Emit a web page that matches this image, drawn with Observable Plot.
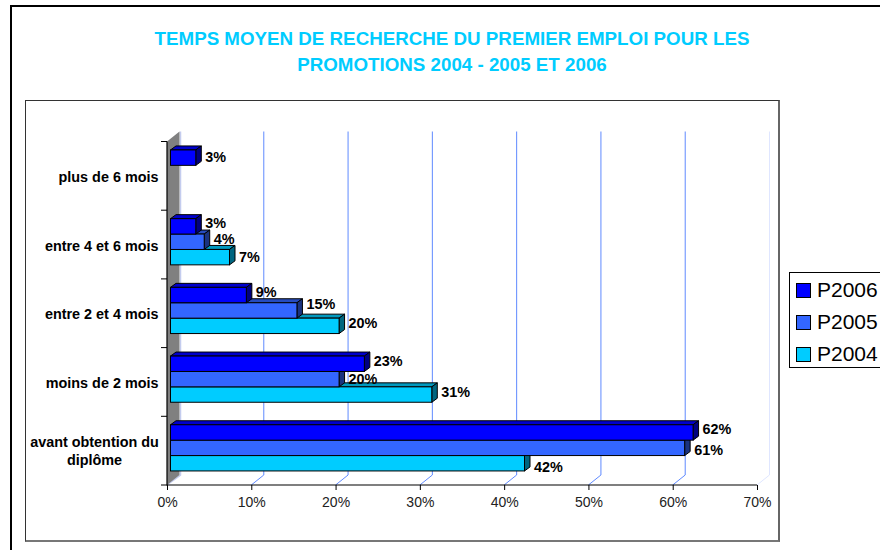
<!DOCTYPE html>
<html><head><meta charset="utf-8">
<script src="https://cdn.jsdelivr.net/npm/d3@7"></script>
<script src="https://cdn.jsdelivr.net/npm/@observablehq/plot@0.6"></script>
<style>
html,body{margin:0;padding:0;background:#fff;overflow:hidden}
#page{position:relative;width:880px;height:550px;overflow:hidden;font-family:"Liberation Sans",Arial,sans-serif}
#page svg{position:absolute;left:0;top:0;background:transparent;overflow:visible}
.box{position:absolute;box-sizing:border-box}
#outer{left:10px;top:5px;width:900px;height:580px;border:2px solid #000}
#inner{left:25px;top:100px;width:755px;height:442px;border:1px solid #333;border-right:2px solid #666;border-bottom:2px solid #777}
#title{position:absolute;left:26px;width:852px;top:26px;text-align:center;color:#00ccff;font-weight:bold;font-size:18.75px;line-height:26px;white-space:pre-line}
#legend{left:789px;top:272px;width:110px;height:96px;border:1px solid #000;background:#fff}
.li{position:absolute;left:27px;font-size:21px;line-height:24px;color:#000}
.sw{position:absolute;left:6px;width:15px;height:15px;box-sizing:border-box;border:1px solid #000}
</style></head><body>
<div id="page">
  <div id="outer" class="box"></div>
  <div id="inner" class="box"></div>
  <div id="title"></div>
  <div id="chart"></div>
  <div id="legend" class="box"></div>
</div>
<script>
const titleLines = ["TEMPS MOYEN DE RECHERCHE DU PREMIER EMPLOI POUR LES", "PROMOTIONS 2004 - 2005 ET 2006"];
const categories = ["plus de 6 mois", "entre 4 et 6 mois", "entre 2 et 4 mois", "moins de 2 mois", "avant obtention du\ndiplôme"];
const seriesNames = ["P2006", "P2005", "P2004"];
const p2006 = [3, 3, 9, 23, 62];
const p2005 = [null, 4, 15, 20, 61];
const p2004 = [null, 7, 20, 31, 42];
const xTicks = [0, 10, 20, 30, 40, 50, 60, 70];

const colors = {P2006: "#0000ff", P2005: "#3366ff", P2004: "#00ccff"};
const topColors = {P2006: "#0000cc", P2005: "#264cbf", P2004: "#0099bf"};
const sideColors = {P2006: "#000080", P2005: "#1a3380", P2004: "#006680"};
const labelShift = {P2006: [0, -3, -2.5, -2, -2.5], P2005: [0, -2, -6, 0, 3], P2004: [0, 0, -2.5, -1.5, 4.5]};

document.getElementById("title").textContent = titleLines.join("\n");
const legend = document.getElementById("legend");
seriesNames.forEach((s, i) => {
  const sw = document.createElement("div"); sw.className = "sw"; sw.style.top = (10 + i * 32) + "px"; sw.style.background = colors[s];
  const t = document.createElement("div"); t.className = "li"; t.style.top = (5 + i * 32) + "px"; t.textContent = s;
  legend.append(sw, t);
});

const NS = "http://www.w3.org/2000/svg";
const wallDX = 12.5, wallDY = 10;
const barH = 15.4, depthX = 5.5, depthY = 4, barDX = 3.5, barDY = -2.8;

function el(name, attrs) {
  const e = document.createElementNS(NS, name);
  for (const k in attrs) e.setAttribute(k, attrs[k]);
  return e;
}
const rows = (name, values) => values.map((v, i) => ({series: name, category: categories[i], value: v, idx: i})).filter(d => d.value != null);
const bandOf = (scales) => scales.y(categories[1]) - scales.y(categories[0]);

// back wall of the 3D box, gridlines folded along the floor
function backdrop(index, scales) {
  const g = el("g", {});
  const bottom = scales.y(categories[4]) + bandOf(scales), top = scales.y(categories[0]);
  const x0 = scales.x(0);
  g.append(el("path", {d: `M${x0 + wallDX + 1},${top - wallDY}V${bottom - wallDY}L${x0},${bottom}`, fill: "none", stroke: "#c4ccee", "stroke-width": 1.5}));
  g.append(el("path", {d: `M${x0},${top}L${x0 + wallDX},${top - wallDY}V${bottom - wallDY}L${x0},${bottom}Z`, fill: "#808080"}));
  for (const t of xTicks.slice(1)) {
    const x = scales.x(t);
    g.append(el("path", {d: `M${x},${bottom}L${x + wallDX},${bottom - wallDY}V${top - wallDY}`, fill: "none", stroke: t === 70 ? "#dfe6ff" : "#5f8aff", "stroke-width": 1}));
  }
  return g;
}
function yAxisLines(index, scales) {
  const g = el("g", {});
  const bw = bandOf(scales), x0 = scales.x(0);
  const top = scales.y(categories[0]), bottom = scales.y(categories[4]) + bw;
  g.append(el("path", {d: `M${x0},${top}V${bottom}H${scales.x(70)}`, fill: "none", stroke: "#000", "stroke-width": 1.2}));
  for (const c of categories) {
    const y = scales.y(c);
    g.append(el("path", {d: `M${x0 - 6},${y}H${x0}`, stroke: "#000", "stroke-width": 1}));
  }
  g.append(el("path", {d: `M${x0 - 6},${bottom}H${x0}`, stroke: "#000", "stroke-width": 1}));
  return g;
}
function addFaces(g, series) {
  for (const r of [...g.querySelectorAll("rect")]) {
    const x = +r.getAttribute("x"), y = +r.getAttribute("y"), w = +r.getAttribute("width"), h = +r.getAttribute("height");
    const topFace = el("path", {d: `M${x},${y}l${depthX},${-depthY}h${w}l${-depthX},${depthY}Z`, fill: topColors[series], stroke: "#000", "stroke-width": 1});
    const side = el("path", {d: `M${x + w},${y}l${depthX},${-depthY}v${h}l${-depthX},${depthY}Z`, fill: sideColors[series], stroke: "#000", "stroke-width": 1});
    r.parentNode.insertBefore(topFace, r);
    r.parentNode.insertBefore(side, r);
  }
  return g;
}
const barMark = (name, values, i) => Plot.barX(rows(name, values), {
  x: "value", y: "category", fill: colors[name], stroke: "#000", strokeWidth: 1,
  insetTop: (68.7 - barH) / 2, insetBottom: (68.7 - barH) / 2,
  dx: barDX, dy: barDY + (i - 1) * barH, ariaLabel: name,
  render(index, scales, vals, dims, ctx, next) {
    return addFaces(next(index, scales, vals, dims, ctx), name);
  }
});
const labelMarks = (name, values, i) => rows(name, values).map(d => Plot.text([d], {
  x: "value", y: "category", text: v => `${v.value}%`,
  dx: barDX + 9, dy: -3.5 + (i - 1) * barH + labelShift[name][d.idx],
  textAnchor: "start", fontWeight: "bold", fontSize: 14.4, fill: "#000"
}));

const singleCats = categories.filter(c => !c.includes("\n"));
const multiCats = categories.filter(c => c.includes("\n"));

const chart = Plot.plot({
  width: 880, height: 550,
  marginLeft: 167, marginRight: 123, marginTop: 141, marginBottom: 65,
  style: {fontFamily: '"Liberation Sans", Arial, sans-serif', background: "transparent"},
  x: {domain: [0, 70], range: [167, 757], axis: null},
  y: {domain: categories, range: [141.5, 485], padding: 0, round: false, axis: null},
  marks: [
    Plot.ruleX([0], {x: d => d, render: backdrop}),
    barMark("P2004", p2004, 2),
    barMark("P2005", p2005, 1),
    barMark("P2006", p2006, 0),
    Plot.ruleX([0], {x: d => d, render: yAxisLines}),
    ...labelMarks("P2006", p2006, 0),
    ...labelMarks("P2005", p2005, 1),
    ...labelMarks("P2004", p2004, 2),
    Plot.text(singleCats, {y: d => d, text: d => d, frameAnchor: "left", textAnchor: "end", dx: -9, dy: 1, fontWeight: "bold", fontSize: 14.4, fill: "#000"}),
    Plot.text(multiCats, {y: d => d, text: d => d, frameAnchor: "left", textAnchor: "middle", dx: -73, dy: -1, fontWeight: "bold", fontSize: 14.4, fill: "#000", lineHeight: 1.25}),
    Plot.axisX(xTicks, {anchor: "bottom", tickSize: 5, tickPadding: 7, tickFormat: d => `${d}%`, fontSize: 14, stroke: "#000", color: "#222", label: null})
  ]
});
document.getElementById("chart").append(chart);
</script>
</body></html>
